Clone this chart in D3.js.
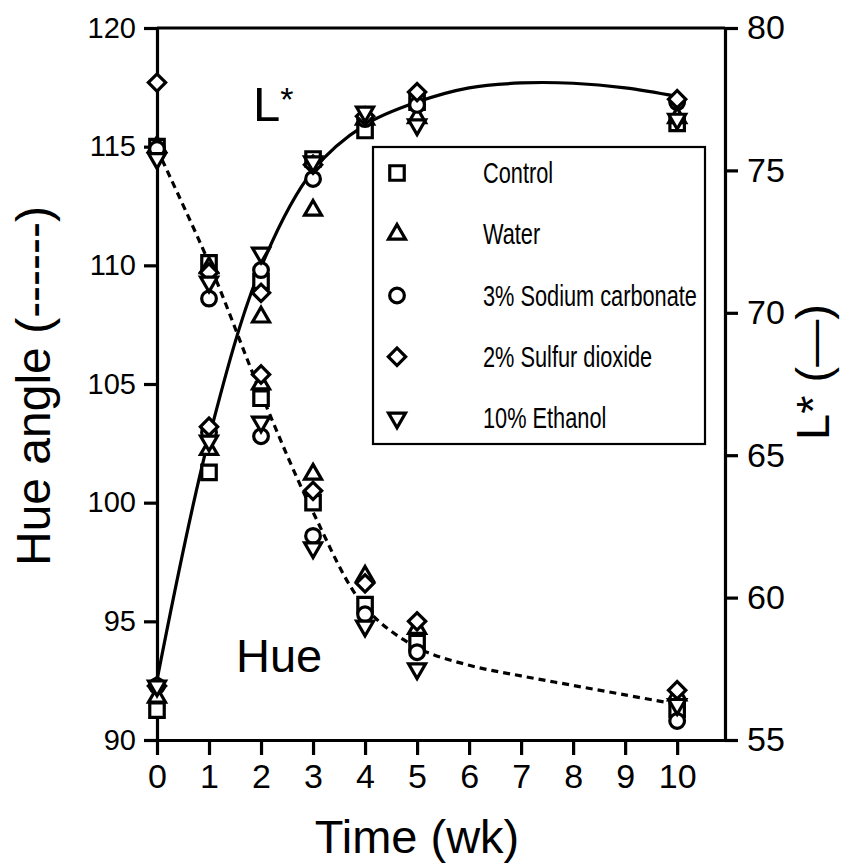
<!DOCTYPE html>
<meta charset="utf-8">
<style>
body { margin: 0; background: #fff; }
text { font-family: "Liberation Sans", Arial, Helvetica, sans-serif; fill: #000; }
.axis path, .axis line { stroke: #000; stroke-width: 3.2; }
.axis text { font-family: "Liberation Sans", Arial, sans-serif; }
</style>
<svg width="842" height="868"></svg>
<script src="https://cdn.jsdelivr.net/npm/d3@7"></script>
<script>

// sampling weeks and treatments
var weeks = [0, 1, 2, 3, 4, 5, 10];
var treatments = ["Control", "Water", "3% Sodium carbonate", "2% Sulfur dioxide", "10% Ethanol"];

// hue angle, left axis
var hueControl = [115.0, 110.1, 104.4, 100.0, 95.7, 94.1, 91.3];
var hueWater   = [115.0, 109.9, 105.0, 101.2, 96.9, 94.7, 91.9];
var hueSodium  = [114.9, 108.6, 102.8, 98.6, 95.3, 93.7, 90.8];
var hueSulfur  = [117.7, 109.7, 105.4, 100.5, 96.6, 95.0, 92.1];
var hueEthanol = [114.5, 109.3, 103.4, 98.1, 94.8, 93.0, 91.5];

// L*, right axis
var lControl = [56.05, 64.4, 71.1, 75.4, 76.4, 77.4, 76.65];
var lWater   = [56.5, 65.2, 69.85, 73.6, 76.8, 76.85, 76.85];
var lSodium  = [56.9, 65.8, 71.5, 74.7, 76.8, 77.3, 77.4];
var lSulfur  = [56.9, 66.0, 70.7, 75.2, 76.9, 77.75, 77.5];
var lEthanol = [56.9, 65.5, 72.1, 75.3, 77.05, 76.6, 76.8];

// fitted curves
var fitWeeks = [0, 1, 2, 3, 4, 5, 6, 7, 8, 9, 10];
var hueFit = [114.9, 110.1, 104.6, 99.6, 95.6, 93.9, 93.15, 92.7, 92.3, 91.9, 91.5];
var lFit   = [57.1, 65.6, 71.6, 75.0, 76.6, 77.4, 77.9, 78.07, 78.06, 77.9, 77.6];

var xTicks = [0, 1, 2, 3, 4, 5, 6, 7, 8, 9, 10];
var hueTicks = [90, 95, 100, 105, 110, 115, 120];
var lTicks = [55, 60, 65, 70, 75, 80];

var hueSeries = [hueControl, hueWater, hueSodium, hueSulfur, hueEthanol];
var lSeries = [lControl, lWater, lSodium, lSulfur, lEthanol];

var svg = d3.select("svg");

var x = d3.scaleLinear().domain([0, 10.92]).range([157, 725]);
var yHue = d3.scaleLinear().domain([90, 120]).range([740, 28]);
var yL = d3.scaleLinear().domain([55, 80]).range([740, 28]);

// symbol per treatment
var shapes = [
  { type: d3.symbolSquare, size: 210, rot: 0 },
  { type: d3.symbolTriangle, size: 125, rot: 0 },
  { type: d3.symbolCircle, size: 170, rot: 0 },
  { type: d3.symbolSquare, size: 150, rot: 45 },
  { type: d3.symbolTriangle, size: 125, rot: 180 }
];

function marker(sel, i) {
  var s = shapes[i];
  sel.append("path")
      .attr("d", d3.symbol().type(s.type).size(s.size)())
      .attr("transform", function(d) {
        return "translate(" + d[0] + "," + d[1] + ") rotate(" + s.rot + ")"; })
      .attr("fill", "#fff")
      .attr("stroke", "#000")
      .attr("stroke-width", 3.2);
}

// axes
svg.append("g")
    .attr("class", "axis")
    .attr("transform", "translate(0,740)")
    .call(d3.axisBottom(x).tickValues(xTicks).tickSize(15).tickSizeOuter(0).tickPadding(9))
    .selectAll("text").style("font-size", "34px");

svg.append("g")
    .attr("class", "axis")
    .attr("transform", "translate(157,0)")
    .call(d3.axisLeft(yHue).tickValues(hueTicks).tickSize(13).tickSizeOuter(0).tickPadding(8))
    .selectAll("text").style("font-size", "29px");

svg.append("g")
    .attr("class", "axis")
    .attr("transform", "translate(725,0)")
    .call(d3.axisRight(yL).tickValues(lTicks).tickSize(13).tickSizeOuter(0).tickPadding(9))
    .selectAll("text").style("font-size", "34px");

svg.append("line")
    .attr("x1", x.range()[0]).attr("x2", x.range()[1])
    .attr("y1", yHue(120)).attr("y2", yHue(120))
    .attr("stroke", "#000").attr("stroke-width", 3.2);

// fitted curves
svg.append("path")
    .datum(fitWeeks.map(function(w, i) { return [x(w), yHue(hueFit[i])]; }))
    .attr("d", d3.line().curve(d3.curveCatmullRom))
    .attr("fill", "none")
    .attr("stroke", "#000")
    .attr("stroke-width", 3.2)
    .attr("stroke-dasharray", "7,5");

svg.append("path")
    .datum(fitWeeks.map(function(w, i) { return [x(w), yL(lFit[i])]; }))
    .attr("d", d3.line().curve(d3.curveCatmullRom))
    .attr("fill", "none")
    .attr("stroke", "#000")
    .attr("stroke-width", 3.2);

// data points
treatments.forEach(function(t, i) {
  var g = svg.append("g").selectAll("g")
    .data(weeks.map(function(w, j) { return [x(w), yHue(hueSeries[i][j])]; })
      .concat(weeks.map(function(w, j) { return [x(w), yL(lSeries[i][j])]; })))
    .enter();
  marker(g, i);
});

// legend
var legend = svg.append("g");
legend.append("rect")
    .attr("x", 373).attr("y", 147)
    .attr("width", 332).attr("height", 297)
    .attr("fill", "#fff")
    .attr("stroke", "#000")
    .attr("stroke-width", 2.2);

var rowY = d3.scalePoint().domain(treatments).range([173, 418]);

treatments.forEach(function(t, i) {
  marker(legend.append("g").data([[397, rowY(t)]]), i);
  legend.append("text")
      .attr("transform", "translate(483," + (rowY(t) + 10) + ") scale(0.75,1)")
      .style("font-size", "29px")
      .text(t);
});

// in-plot labels
var lLab = svg.append("text")
    .attr("x", 253).attr("y", 121)
    .style("font-size", "49px")
    .text("L");
lLab.append("tspan")
    .attr("dy", -10)
    .style("font-size", "34px")
    .text("*");

svg.append("text")
    .attr("x", 236).attr("y", 672)
    .style("font-size", "47px")
    .text("Hue");

// axis titles
svg.append("text")
    .attr("transform", "translate(50,386) rotate(-90)")
    .attr("text-anchor", "middle")
    .style("font-size", "48px")
    .text("Hue angle (------)");

svg.append("text")
    .attr("transform", "translate(829,372) rotate(-90)")
    .attr("text-anchor", "middle")
    .style("font-size", "47px")
    .text("L* (\u2014)");

svg.append("text")
    .attr("x", 417).attr("y", 853)
    .attr("text-anchor", "middle")
    .style("font-size", "47px")
    .text("Time (wk)");

</script>
